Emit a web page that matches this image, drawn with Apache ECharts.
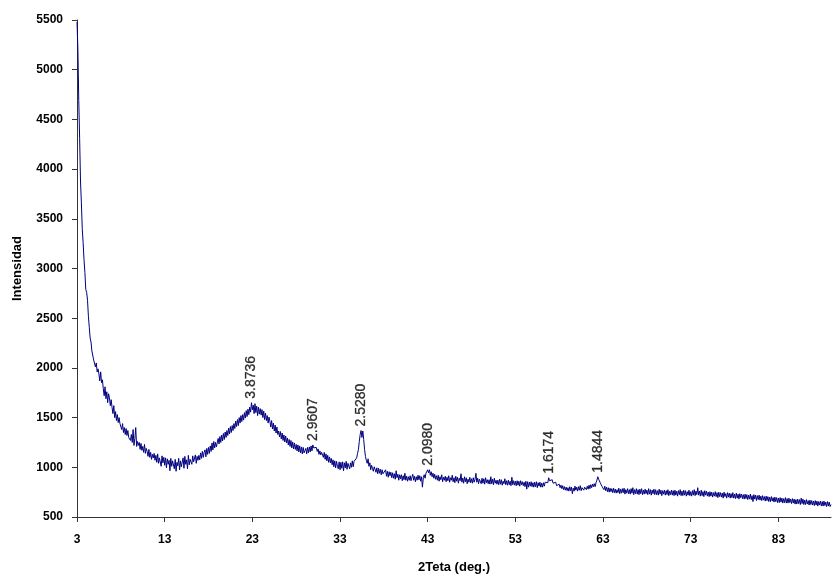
<!DOCTYPE html>
<html>
<head>
<meta charset="utf-8">
<title>Difractograma</title>
<script src="https://cdn.jsdelivr.net/npm/echarts@6/dist/echarts.min.js"></script>
<style>
  html, body { margin: 0; padding: 0; background: #ffffff; }
  #chart { width: 833px; height: 576px; }
</style>
</head>
<body>
<div id="chart"></div>
<script>
// Scan settings: 2θ from 3° with a 0.1° step
const startAngle = 3;
const stepAngle = 0.1;

// Measured intensity (counts), one row per degree, 3.0° … 89.0°
const intensity = [
  5480, 5210, 4690, 4310, 3880, 3660, 3400, 3260, 3090, 2960,
  2790, 2760, 2680, 2520, 2410, 2300, 2260, 2170, 2150, 2080,
  2070, 2010, 2050, 1960, 1990, 1940, 1870, 1960, 1850, 1880,
  1790, 1720, 1810, 1690, 1760, 1650, 1740, 1700, 1620, 1680,
  1600, 1540, 1620, 1500, 1560, 1470, 1530, 1450, 1500, 1440,
  1430, 1380, 1440, 1350, 1400, 1330, 1390, 1320, 1370, 1300,
  1320, 1270, 1330, 1250, 1380, 1220, 1290, 1400, 1210, 1260,
  1220, 1250, 1180, 1240, 1170, 1210, 1150, 1230, 1140, 1190,
  1160, 1110, 1180, 1100, 1150, 1080, 1130, 1095, 1140, 1070,
  1120, 1050, 1135, 1040, 1095, 1080, 1010, 1115, 1045, 1100,
  1020, 1095, 995, 1085, 1030, 1070, 965, 1090, 1010, 1065,
  1060, 985, 1080, 960, 1050, 1015, 1090, 975, 1065, 1005,
  1020, 1095, 990, 1110, 1030, 1075, 985, 1120, 1025, 1080,
  1100, 1030, 1115, 1055, 1065, 1125, 1040, 1110, 1070, 1120,
  1075, 1145, 1090, 1160, 1100, 1150, 1175, 1105, 1190, 1130,
  1200, 1140, 1215, 1160, 1245, 1175, 1260, 1195, 1250, 1205,
  1220, 1290, 1235, 1310, 1250, 1325, 1265, 1340, 1280, 1355,
  1300, 1370, 1320, 1395, 1335, 1410, 1350, 1420, 1370, 1440,
  1390, 1465, 1410, 1480, 1420, 1500, 1445, 1520, 1460, 1530,
  1475, 1550, 1495, 1570, 1510, 1585, 1530, 1605, 1555, 1650,
  1580, 1625, 1540, 1640, 1550, 1615, 1520, 1605, 1535, 1590,
  1525, 1580, 1500, 1565, 1480, 1545, 1470, 1520, 1445, 1505,
  1465, 1405, 1470, 1385, 1445, 1365, 1425, 1345, 1405, 1330,
  1365, 1305, 1360, 1285, 1345, 1270, 1325, 1255, 1315, 1245,
  1295, 1225, 1280, 1210, 1270, 1195, 1255, 1185, 1245, 1180,
  1230, 1165, 1225, 1155, 1215, 1145, 1205, 1135, 1200, 1145,
  1125, 1190, 1135, 1200, 1145, 1205, 1155, 1215, 1165, 1225,
  1195, 1210, 1180, 1200, 1160, 1185, 1130, 1165, 1125, 1150,
  1165, 1100, 1150, 1080, 1135, 1065, 1120, 1050, 1105, 1045,
  1090, 1025, 1075, 1005, 1065, 995, 1060, 1010, 985, 1055,
  975, 1050, 990, 1055, 965, 1045, 995, 1060, 980, 1040,
  1050, 985, 1045, 1000, 1065, 1005, 1060, 1055, 1075, 1095,
  1140, 1180, 1260, 1330, 1370, 1300, 1365, 1280, 1180, 1110,
  1070, 1040, 1085, 1010, 1045, 975, 1020, 990, 960, 1005,
  1010, 950, 995, 935, 990, 940, 980, 925, 975, 935,
  955, 915, 975, 910, 960, 900, 955, 915, 950, 895,
  945, 890, 935, 880, 965, 895, 930, 870, 925, 885,
  925, 865, 915, 875, 940, 870, 910, 860, 905, 870,
  915, 865, 900, 930, 870, 910, 855, 905, 870, 920,
  875, 915, 860, 905, 800, 895, 925, 890, 940, 945,
  975, 945, 975, 920, 955, 905, 940, 890, 930, 880,
  915, 870, 920, 860, 905, 875, 925, 855, 900, 870,
  910, 855, 900, 865, 915, 850, 895, 870, 920, 855,
  895, 845, 910, 860, 900, 840, 890, 865, 935, 850,
  890, 840, 905, 855, 895, 835, 880, 850, 900, 845,
  885, 840, 895, 850, 880, 940, 850, 890, 835, 880,
  880, 835, 890, 840, 885, 830, 895, 845, 875, 835,
  875, 830, 905, 835, 880, 825, 890, 840, 870, 830,
  870, 825, 880, 830, 875, 820, 860, 835, 885, 825,
  865, 820, 870, 825, 860, 815, 900, 825, 865, 820,
  860, 815, 865, 820, 860, 810, 865, 825, 855, 815,
  850, 805, 860, 780, 855, 800, 850, 810, 855, 805,
  845, 800, 850, 805, 855, 795, 845, 810, 850, 800,
  840, 800, 845, 810, 850, 835, 870, 845, 895, 865,
  885, 855, 875, 840, 860, 825, 850, 815, 835, 805,
  830, 795, 820, 785, 815, 775, 805, 770, 800, 765,
  795, 760, 805, 765, 800, 735, 790, 760, 810, 770,
  800, 760, 805, 770, 815, 765, 795, 810, 770, 800,
  815, 775, 810, 780, 820, 785, 825, 795, 830, 805,
  835, 805, 845, 870, 905, 880, 865, 840, 835, 805,
  815, 775, 810, 765, 800, 755, 795, 750, 790, 755,
  785, 745, 790, 745, 780, 740, 775, 745, 790, 735,
  780, 740, 785, 745, 790, 730, 775, 740, 785, 735,
  775, 730, 785, 740, 795, 725, 775, 735, 785, 730,
  775, 725, 780, 735, 785, 725, 770, 730, 780, 735,
  770, 725, 785, 730, 775, 720, 770, 735, 780, 725,
  775, 725, 765, 720, 780, 730, 770, 715, 765, 730,
  770, 720, 765, 725, 775, 715, 760, 725, 770, 720,
  765, 715, 770, 720, 760, 710, 765, 725, 775, 715,
  760, 715, 770, 720, 765, 710, 755, 720, 770, 715,
  755, 710, 765, 720, 775, 715, 760, 725, 795, 720,
  760, 710, 770, 715, 755, 705, 765, 720, 760, 710,
  750, 705, 755, 710, 750, 700, 745, 710, 755, 705,
  745, 695, 750, 705, 745, 700, 740, 690, 750, 705,
  735, 690, 745, 700, 740, 690, 735, 695, 745, 690,
  730, 685, 740, 690, 730, 680, 735, 695, 730, 685,
  725, 680, 730, 685, 725, 675, 720, 680, 730, 675,
  715, 655, 725, 680, 720, 665, 715, 675, 720, 670,
  710, 665, 715, 670, 705, 660, 710, 665, 705, 655,
  700, 655, 705, 660, 695, 650, 700, 655, 695, 645,
  690, 645, 695, 650, 690, 640, 685, 645, 695, 640,
  685, 640, 690, 645, 680, 635, 685, 640, 680, 630,
  675, 630, 680, 635, 675, 625, 690, 635, 680, 625,
  670, 625, 675, 630, 665, 620, 670, 625, 665, 620,
  660, 615, 665, 620, 660, 610, 655, 620, 660, 610,
  655, 610, 660, 615, 650, 605, 655, 610, 650, 605,
  625
];

// Indexed reflections: position (2θ), peak height and d-spacing (Å)
const peakAngle = [22.9, 29.9, 35.4, 43.0, 56.8, 62.4];
const peakHeight = [1650, 1225, 1370, 975, 895, 905];
const peakSpacing = ['3.8736', '2.9607', '2.5280', '2.0980', '1.6174', '1.4844'];

// Axis ticks
const xTicks = [3, 13, 23, 33, 43, 53, 63, 73, 83];
const yTicks = [500, 1000, 1500, 2000, 2500, 3000, 3500, 4000, 4500, 5000, 5500];

const pattern = intensity.map((v, i) => [+(startAngle + i * stepAngle).toFixed(1), v]);
const peaks = peakAngle.map((a, i) => ({ value: [a, peakHeight[i]], name: peakSpacing[i] }));

const font = 'Liberation Sans, Arial, sans-serif';
const axisColor = '#333333';

const chart = echarts.init(document.getElementById('chart'), null, { renderer: 'canvas' });
chart.setOption({
  backgroundColor: '#ffffff',
  animation: false,
  grid: { left: 77, right: 2, top: 20, bottom: 59, containLabel: false, outerBoundsMode: 'none' },
  xAxis: {
    type: 'value',
    min: 3,
    max: 89,
    interval: 10,
    name: '2Teta (deg.)',
    nameLocation: 'middle',
    nameGap: 44,
    nameTextStyle: { fontFamily: font, fontWeight: 'bold', fontSize: 13, color: '#000' },
    axisLine: { show: true, onZero: false, lineStyle: { color: axisColor, width: 1 } },
    axisTick: { show: true, length: 5, customValues: xTicks, lineStyle: { color: axisColor } },
    axisLabel: {
      customValues: xTicks,
      margin: 17,
      formatter: v => String(v),
      fontFamily: font, fontWeight: 'bold', fontSize: 12, color: '#000'
    },
    splitLine: { show: false }
  },
  yAxis: {
    type: 'value',
    min: 500,
    max: 5500,
    interval: 500,
    name: 'Intensidad',
    nameLocation: 'middle',
    nameGap: 53,
    nameTextStyle: { fontFamily: font, fontWeight: 'bold', fontSize: 13, color: '#000' },
    axisLine: { show: true, lineStyle: { color: axisColor, width: 1 } },
    axisTick: { show: true, length: 5, customValues: yTicks, lineStyle: { color: axisColor } },
    axisLabel: {
      customValues: yTicks,
      margin: 14,
      formatter: v => String(v),
      fontFamily: font, fontWeight: 'bold', fontSize: 12, color: '#000'
    },
    splitLine: { show: false }
  },
  series: [
    {
      name: 'Intensidad',
      type: 'line',
      data: pattern,
      showSymbol: false,
      symbol: 'none',
      lineStyle: { color: '#000080', width: 1 },
      z: 2
    },
    {
      name: 'd',
      type: 'scatter',
      data: peaks,
      symbolSize: 0,
      itemStyle: { color: 'transparent' },
      label: {
        show: true,
        position: 'top',
        distance: 4,
        rotate: 90,
        align: 'left',
        verticalAlign: 'middle',
        formatter: p => p.name,
        fontFamily: font,
        fontSize: 14,
        color: '#000',
        textBorderColor: '#000',
        textBorderWidth: 0.3
      },
      silent: true,
      z: 3
    }
  ]
});
</script>
</body>
</html>
